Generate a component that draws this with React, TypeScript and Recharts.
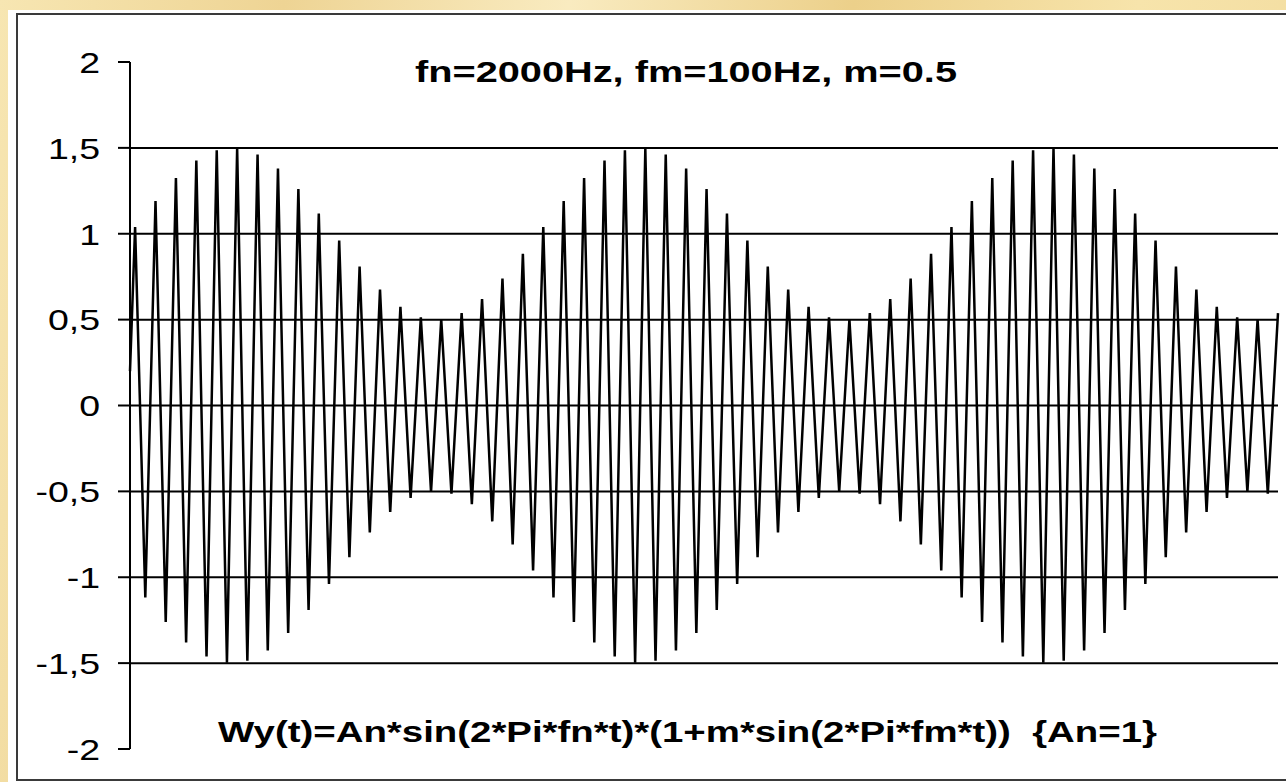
import React from 'react';
import { LineChart, Line, XAxis, YAxis, ReferenceLine } from 'recharts';

// time of each sample, milliseconds
const timeMs = [
  0,
  0.125, 0.375, 0.625, 0.875, 1.125, 1.375, 1.625, 1.875,
  2.125, 2.375, 2.625, 2.875, 3.125, 3.375, 3.625, 3.875,
  4.125, 4.375, 4.625, 4.875, 5.125, 5.375, 5.625, 5.875,
  6.125, 6.375, 6.625, 6.875, 7.125, 7.375, 7.625, 7.875,
  8.125, 8.375, 8.625, 8.875, 9.125, 9.375, 9.625, 9.875,
  10.125, 10.375, 10.625, 10.875, 11.125, 11.375, 11.625, 11.875,
  12.125, 12.375, 12.625, 12.875, 13.125, 13.375, 13.625, 13.875,
  14.125, 14.375, 14.625, 14.875, 15.125, 15.375, 15.625, 15.875,
  16.125, 16.375, 16.625, 16.875, 17.125, 17.375, 17.625, 17.875,
  18.125, 18.375, 18.625, 18.875, 19.125, 19.375, 19.625, 19.875,
  20.125, 20.375, 20.625, 20.875, 21.125, 21.375, 21.625, 21.875,
  22.125, 22.375, 22.625, 22.875, 23.125, 23.375, 23.625, 23.875,
  24.125, 24.375, 24.625, 24.875, 25.125, 25.375, 25.625, 25.875,
  26.125, 26.375, 26.625, 26.875, 27.125, 27.375, 27.625, 27.875,
  28.125,
];

// signal value at each sample
const amplitude = [
  0.2,
  1.039, -1.117, 1.191, -1.261, 1.325, -1.38, 1.426, -1.462,
  1.486, -1.498, 1.498, -1.486, 1.462, -1.426, 1.38, -1.325,
  1.261, -1.191, 1.117, -1.039, 0.961, -0.883, 0.809, -0.739,
  0.675, -0.62, 0.574, -0.538, 0.514, -0.502, 0.502, -0.514,
  0.538, -0.574, 0.62, -0.675, 0.739, -0.809, 0.883, -0.961,
  1.039, -1.117, 1.191, -1.261, 1.325, -1.38, 1.426, -1.462,
  1.486, -1.498, 1.498, -1.486, 1.462, -1.426, 1.38, -1.325,
  1.261, -1.191, 1.117, -1.039, 0.961, -0.883, 0.809, -0.739,
  0.675, -0.62, 0.574, -0.538, 0.514, -0.502, 0.502, -0.514,
  0.538, -0.574, 0.62, -0.675, 0.739, -0.809, 0.883, -0.961,
  1.039, -1.117, 1.191, -1.261, 1.325, -1.38, 1.426, -1.462,
  1.486, -1.498, 1.498, -1.486, 1.462, -1.426, 1.38, -1.325,
  1.261, -1.191, 1.117, -1.039, 0.961, -0.883, 0.809, -0.739,
  0.675, -0.62, 0.574, -0.538, 0.514, -0.502, 0.502, -0.514,
  0.538,
];

const yTicks = [-2, -1.5, -1, -0.5, 0, 0.5, 1, 1.5, 2];
const gridLevels = [1.5, 1, 0.5, 0, -0.5, -1, -1.5];
const titleText = 'fn=2000Hz, fm=100Hz, m=0.5';
const formulaText = 'Wy(t)=An*sin(2*Pi*fn*t)*(1+m*sin(2*Pi*fm*t))  {An=1}';

const data = timeMs.map((t, i) => ({ t, v: amplitude[i] }));

const FONT = '"Liberation Sans", Arial, Helvetica, sans-serif';

function YTick(props: any) {
  const { x, y, payload } = props;
  const label = String(payload.value).replace('.', ',');
  return (
    <text
      transform={`translate(${x},${y}) scale(1.25,1)`}
      x={0}
      y={0}
      dy="0.36em"
      textAnchor="end"
      fontFamily={FONT}
      fontSize={30}
      fill="#000"
    >
      {label}
    </text>
  );
}

export default function App() {
  return (
    <div
      style={{
        position: 'absolute',
        left: 0,
        top: 0,
        width: 1286,
        height: 782,
        overflow: 'hidden',
        background:
          'linear-gradient(100deg, #f7e6b2 0%, #eed494 20%, #f9ebc0 40%, #ecd08a 60%, #f7e4ab 80%, #f1da9c 100%)',
      }}
    >
      <div
        style={{
          position: 'absolute',
          left: 8,
          top: 10,
          width: 1290,
          height: 780,
          background: '#ffffff',
        }}
      />
      <svg
        width={1286}
        height={782}
        style={{ position: 'absolute', left: 0, top: 0 }}
      >
        <rect x={17} y={14} width={1300} height={766} fill="none" stroke="#3a3a3a" strokeWidth={2} />
      </svg>
      <div style={{ position: 'absolute', left: 0, top: 0 }}>
        <LineChart
          width={1286}
          height={782}
          data={data}
          margin={{ top: 62, right: 8, bottom: 33, left: 0 }}
        >
          <XAxis dataKey="t" type="number" domain={[0, 28.125]} hide />
          <YAxis
            type="number"
            domain={[-2, 2]}
            ticks={yTicks}
            width={130}
            interval={0}
            axisLine={{ stroke: '#000', strokeWidth: 2 }}
            tickLine={{ stroke: '#000', strokeWidth: 2 }}
            tickSize={12}
            tickMargin={18}
            tick={<YTick />}
          />
          {gridLevels.map((g) => (
            <ReferenceLine key={g} y={g} stroke="#000" strokeWidth={2} />
          ))}
          <Line
            type="linear"
            dataKey="v"
            stroke="#000"
            strokeWidth={2.5}
            dot={false}
            isAnimationActive={false}
          />
        </LineChart>
      </div>
      <svg
        width={1286}
        height={782}
        style={{ position: 'absolute', left: 0, top: 0, pointerEvents: 'none' }}
      >
        <text
          x={415}
          y={82}
          fontFamily={FONT}
          fontWeight="bold"
          fontSize={30}
          textLength={542}
          lengthAdjust="spacingAndGlyphs"
          fill="#000"
        >
          {titleText}
        </text>
        <text
          x={218}
          y={742}
          fontFamily={FONT}
          fontWeight="bold"
          fontSize={30}
          textLength={939}
          lengthAdjust="spacingAndGlyphs"
          fill="#000"
          style={{ whiteSpace: 'pre' }}
        >
          {formulaText}
        </text>
      </svg>
    </div>
  );
}
